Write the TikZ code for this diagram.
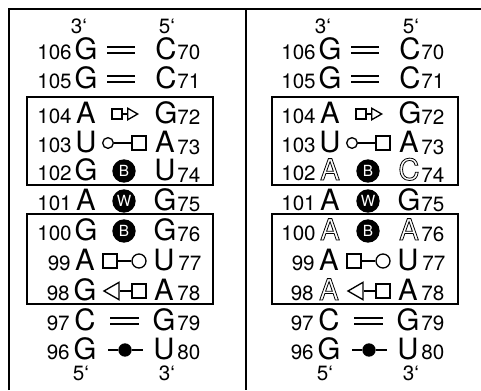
\documentclass[tikz,border=0pt]{standalone}
\usepackage{fontspec}
\setmainfont{TeX Gyre Heros}
\usepackage{tikz}
\usetikzlibrary{shapes.geometric}
% outlined letter (text render mode 1)
\newcommand\hollow[1]{\special{pdf:literal 1 Tr 0.6 w}#1\special{pdf:literal 0 Tr}}

\begin{document}
\begin{tikzpicture}[x=0.75pt,y=-0.75pt,
    nuc/.style={inner sep=0pt,anchor=base,font=\fontsize{22}{22}\selectfont},
    numl/.style={inner sep=0pt,anchor=base east,font=\fontsize{15.5}{15.5}\selectfont},
    numr/.style={inner sep=0pt,anchor=base west,font=\fontsize{15.5}{15.5}\selectfont},
    prime/.style={inner sep=0pt,anchor=base,font=\fontsize{15.5}{15.5}\selectfont},
    frame/.style={line width=1.6pt},
    motif/.style={line width=1.1pt},
    wc/.style={double,line width=1pt,double distance=3.4pt},
    bond/.style={line width=1pt},
    sqbox/.style={rectangle,draw,line width=1pt,inner sep=0pt,minimum size=10.5pt},
    ring/.style={circle,draw,line width=1pt,inner sep=0pt,minimum size=10.5pt},
    tipR/.style={regular polygon,regular polygon sides=3,shape border rotate=-90,draw,line width=1pt,inner sep=0pt,minimum size=10pt},
    tipL/.style={regular polygon,regular polygon sides=3,shape border rotate=90,draw,line width=1pt,inner sep=0pt,minimum size=15pt},
    blob/.style={circle,fill=black,text=white,inner sep=0pt,minimum size=17.5pt,font=\fontsize{11.5}{11.5}\selectfont},
    dot/.style={circle,fill=black,inner sep=0pt,minimum size=10pt}]
\useasboundingbox (0,0) rectangle (481,390);

% frame
\draw[frame] (9,390) -- (9,9) -- (481,9);
\draw[frame] (246,9) -- (246,390);

% ---------------- wild type ----------------
\draw[motif] (27,97) rectangle (213,185);
\draw[motif] (27,214) rectangle (213,304);

\node [prime] (p3t) at (79,33) {3‘};
\node [prime] (p5t) at (167,33) {5‘};

\node [numl] (n106) at (72,59) {106};
\node [nuc] (b106) at (86,59) {G};
\node [nuc] (b70) at (166,59) {C};
\node [numr] (n70) at (177,59) {70};
\coordinate (w106a) at (107,50);
\coordinate (w106b) at (135,50);
\draw[wc] (w106a) -- (w106b);

\node [numl] (n105) at (72,88) {105};
\node [nuc] (b105) at (86,88) {G};
\node [nuc] (b71) at (166,88) {C};
\node [numr] (n71) at (177,88) {71};
\coordinate (w105a) at (107,79);
\coordinate (w105b) at (135,79);
\draw[wc] (w105a) -- (w105b);

\node [numl] (n104) at (72,123) {104};
\node [nuc] (b104) at (86,123) {A};
\node [nuc] (b72) at (166,123) {G};
\node [numr] (n72) at (177,124) {72};
\node [sqbox,minimum size=7.5pt] (s104) at (117,114) {};
\node [tipR] (t104) at (131,114) {};
\draw[bond] (s104) -- (t104);

\node [numl] (n103) at (72,152) {103};
\node [nuc] (b103) at (86,152) {U};
\node [nuc] (b73) at (165,152) {A};
\node [numr] (n73) at (177,154) {73};
\node [ring,minimum size=8pt] (o103) at (108,143) {};
\node [sqbox] (s103) at (139,143) {};
\draw[bond] (o103) -- (s103);

\node [numl] (n102) at (72,180) {102};
\node [nuc] (b102) at (86,180) {G};
\node [nuc] (b74) at (165,180) {U};
\node [numr] (n74) at (177,182) {74};
\node [blob] (B102) at (124,171) {B};

\node [numl] (n101) at (72,210) {101};
\node [nuc] (b101) at (86,210) {A};
\node [nuc] (b75) at (165,210) {G};
\node [numr] (n75) at (177,211) {75};
\node [blob] (W101) at (124,201) {W};

\node [numl] (n100) at (72,240) {100};
\node [nuc] (b100) at (86,240) {G};
\node [nuc] (b76) at (165,240) {G};
\node [numr] (n76) at (177,241) {76};
\node [blob] (B100) at (124,231) {B};

\node [numl] (n99) at (71,270) {99};
\node [nuc] (b99) at (85,270) {A};
\node [nuc] (b77) at (164,270) {U};
\node [numr] (n77) at (178,270) {77};
\node [sqbox] (s99) at (110,261) {};
\node [ring] (o99) at (139,261) {};
\draw[bond] (s99) -- (o99);

\node [numl] (n98) at (70,300) {98};
\node [nuc] (b98) at (85,300) {G};
\node [nuc] (b78) at (164,300) {A};
\node [numr] (n78) at (177,300) {78};
\node [tipL] (t98) at (114,291) {};
\node [sqbox] (s98) at (139,291) {};
\draw[bond] (t98) -- (s98);

\node [numl] (n97) at (70,330) {97};
\node [nuc] (b97) at (85,330) {C};
\node [nuc] (b79) at (164,330) {G};
\node [numr] (n79) at (177,330) {79};
\coordinate (w97a) at (110,321);
\coordinate (w97b) at (139,321);
\draw[wc] (w97a) -- (w97b);

\node [numl] (n96) at (70,359) {96};
\node [nuc] (b96) at (85,359) {G};
\node [nuc] (b80) at (164,359) {U};
\node [numr] (n80) at (177,359) {80};
\coordinate (g96a) at (108,350);
\coordinate (g96b) at (143,350);
\node [dot] (d96) at (125,350) {};
\draw[bond] (g96a) -- (d96) -- (g96b);

\node [prime] (p5b) at (81,380) {5‘};
\node [prime] (p3b) at (167,380) {3‘};

% ---------------- mutant ----------------
\draw[motif] (272,97) rectangle (458,185);
\draw[motif] (272,214) rectangle (458,304);

\node [prime] (p3t1) at (323,33) {3‘};
\node [prime] (p5t1) at (411,33) {5‘};

\node [numl] (n1061) at (316,59) {106};
\node [nuc] (b1061) at (330,59) {G};
\node [nuc] (b701) at (410,59) {C};
\node [numr] (n701) at (421,59) {70};
\coordinate (w106a1) at (351,50);
\coordinate (w106b1) at (379,50);
\draw[wc] (w106a1) -- (w106b1);

\node [numl] (n1051) at (316,88) {105};
\node [nuc] (b1051) at (330,88) {G};
\node [nuc] (b711) at (410,88) {C};
\node [numr] (n711) at (421,88) {71};
\coordinate (w105a1) at (351,79);
\coordinate (w105b1) at (379,79);
\draw[wc] (w105a1) -- (w105b1);

\node [numl] (n1041) at (316,123) {104};
\node [nuc] (b1041) at (330,123) {A};
\node [nuc] (b721) at (410,123) {G};
\node [numr] (n721) at (421,124) {72};
\node [sqbox,minimum size=7.5pt] (s1041) at (361,114) {};
\node [tipR] (t1041) at (375,114) {};
\draw[bond] (s1041) -- (t1041);

\node [numl] (n1031) at (316,152) {103};
\node [nuc] (b1031) at (330,152) {U};
\node [nuc] (b731) at (409,152) {A};
\node [numr] (n731) at (421,154) {73};
\node [ring,minimum size=8pt] (o1031) at (352,143) {};
\node [sqbox] (s1031) at (383,143) {};
\draw[bond] (o1031) -- (s1031);

\node [numl] (n1021) at (316,180) {102};
\node [nuc] (b1021) at (330,180) {\hollow{A}};
\node [nuc] (b741) at (409,180) {\hollow{C}};
\node [numr] (n741) at (421,182) {74};
\node [blob] (B1021) at (368,171) {B};

\node [numl] (n1011) at (316,210) {101};
\node [nuc] (b1011) at (330,210) {A};
\node [nuc] (b751) at (409,210) {G};
\node [numr] (n751) at (421,211) {75};
\node [blob] (W1011) at (368,201) {W};

\node [numl] (n1001) at (316,240) {100};
\node [nuc] (b1001) at (330,240) {\hollow{A}};
\node [nuc] (b761) at (409,240) {\hollow{A}};
\node [numr] (n761) at (421,241) {76};
\node [blob] (B1001) at (368,231) {B};

\node [numl] (n991) at (315,270) {99};
\node [nuc] (b991) at (329,270) {A};
\node [nuc] (b771) at (408,270) {U};
\node [numr] (n771) at (422,270) {77};
\node [sqbox] (s991) at (354,261) {};
\node [ring] (o991) at (383,261) {};
\draw[bond] (s991) -- (o991);

\node [numl] (n981) at (314,300) {98};
\node [nuc] (b981) at (329,300) {\hollow{A}};
\node [nuc] (b781) at (408,300) {A};
\node [numr] (n781) at (421,300) {78};
\node [tipL] (t981) at (358,291) {};
\node [sqbox] (s981) at (383,291) {};
\draw[bond] (t981) -- (s981);

\node [numl] (n971) at (314,330) {97};
\node [nuc] (b971) at (329,330) {C};
\node [nuc] (b791) at (408,330) {G};
\node [numr] (n791) at (421,330) {79};
\coordinate (w97a1) at (354,321);
\coordinate (w97b1) at (383,321);
\draw[wc] (w97a1) -- (w97b1);

\node [numl] (n961) at (314,359) {96};
\node [nuc] (b961) at (329,359) {G};
\node [nuc] (b801) at (408,359) {U};
\node [numr] (n801) at (421,359) {80};
\coordinate (g96a1) at (352,350);
\coordinate (g96b1) at (387,350);
\node [dot] (d961) at (369,350) {};
\draw[bond] (g96a1) -- (d961) -- (g96b1);

\node [prime] (p5b1) at (325,380) {5‘};
\node [prime] (p3b1) at (411,380) {3‘};

\end{tikzpicture}
\end{document}
